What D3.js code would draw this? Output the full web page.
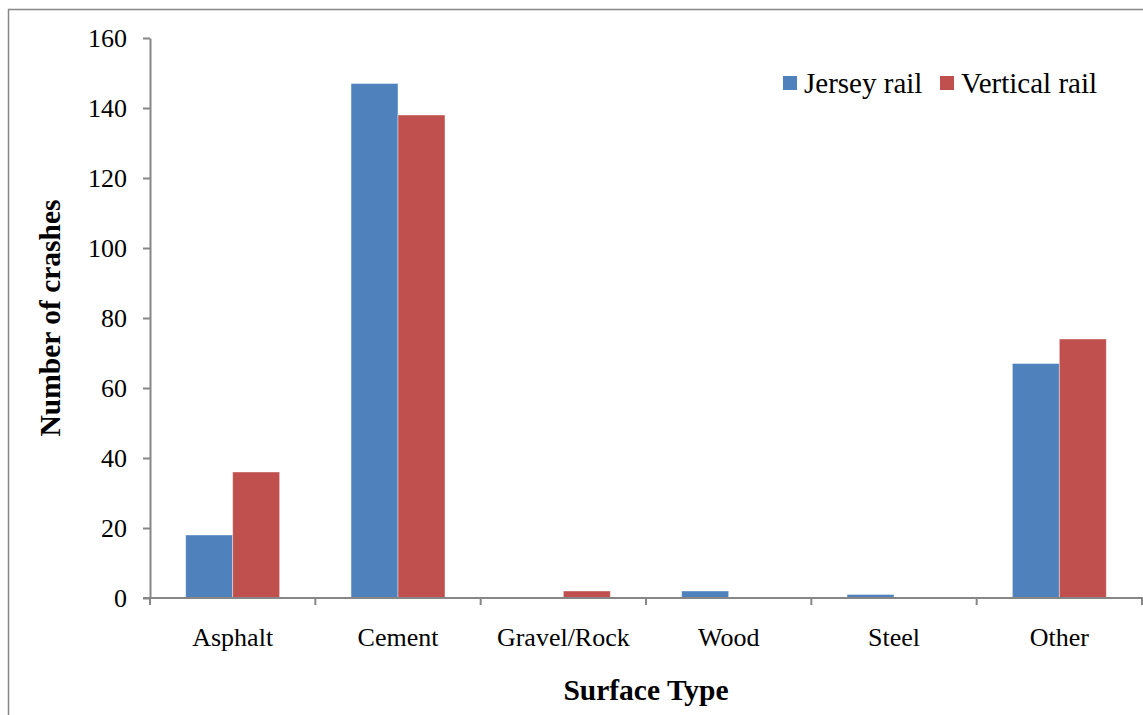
<!DOCTYPE html>
<html>
<head>
<meta charset="utf-8">
<script src="https://cdn.jsdelivr.net/npm/d3@7"></script>
<style>
  body { margin: 0; background: #fff; }
  text { font-family: "Liberation Serif", "Times New Roman", serif; fill: #000; }
</style>
</head>
<body>
<div id="chart"></div>
<script>
// Data
const categories = ["Asphalt", "Cement", "Gravel/Rock", "Wood", "Steel", "Other"];
const seriesNames = ["Jersey rail", "Vertical rail"];
const jerseyValues = [18, 147, 0, 2, 1, 67];
const verticalValues = [36, 138, 2, 0, 0, 74];
const yTicks = [0, 20, 40, 60, 80, 100, 120, 140, 160];

const colors = ["#4F81BD", "#C0504D"];

const width = 1143, height = 715;
const marginTop = 38, marginRight = 1, marginBottom = 117, marginLeft = 150;

const table = categories.map((c, i) => ({ cat: c, vals: [jerseyValues[i], verticalValues[i]] }));

const svg = d3.select("#chart").append("svg")
    .attr("width", width)
    .attr("height", height);

// outer frame (cropped at right and bottom)
svg.append("path")
    .attr("d", `M8.5,${height + 2}V9.5H${width + 2}`)
    .attr("fill", "none")
    .attr("stroke", "#868686")
    .attr("stroke-width", 1.5);

const x = d3.scaleBand()
    .domain(categories)
    .range([marginLeft, width - marginRight])
    .paddingInner(0)
    .paddingOuter(0);

const x1 = d3.scaleBand()
    .domain(seriesNames)
    .range([0, x.bandwidth()])
    .paddingOuter(0.76)
    .paddingInner(0);

const y = d3.scaleLinear()
    .domain([0, 160])
    .range([height - marginBottom, marginTop]);

// bars
svg.append("g")
    .selectAll("g")
    .data(table)
    .join("g")
    .attr("transform", d => `translate(${x(d.cat)},0)`)
    .selectAll("rect")
    .data(d => d.vals.map((v, i) => ({ key: seriesNames[i], value: v, i })))
    .join("rect")
    .attr("x", d => x1(d.key))
    .attr("y", d => y(d.value))
    .attr("width", x1.bandwidth())
    .attr("height", d => y(0) - y(d.value))
    .attr("fill", d => colors[d.i])
    .attr("stroke", d => d.value > 0 ? "rgba(255,255,255,0.5)" : "none")
    .attr("stroke-width", 0.8);

// y axis
svg.append("g")
    .attr("transform", `translate(${marginLeft},0)`)
    .call(d3.axisLeft(y).tickValues(yTicks).tickSize(7).tickPadding(16).tickSizeOuter(0))
    .call(g => g.selectAll("path, line").attr("stroke", "#868686").attr("stroke-width", 2))
    .call(g => g.selectAll("text").attr("font-size", 26).attr("fill", "#000"));

// x axis
const xAxis = svg.append("g")
    .attr("transform", `translate(0,${y(0)})`);
xAxis.append("line")
    .attr("x1", marginLeft - 7).attr("x2", width)
    .attr("stroke", "#868686").attr("stroke-width", 2);
xAxis.selectAll("line.tick")
    .data(categories.concat(["end"]))
    .join("line")
    .attr("class", "tick")
    .attr("x1", (d, i) => i < categories.length ? x(d) : x(categories[categories.length - 1]) + x.bandwidth())
    .attr("x2", (d, i) => i < categories.length ? x(d) : x(categories[categories.length - 1]) + x.bandwidth())
    .attr("y1", 0).attr("y2", 7)
    .attr("stroke", "#868686").attr("stroke-width", 2);
xAxis.selectAll("text")
    .data(categories)
    .join("text")
    .attr("x", d => x(d) + x.bandwidth() / 2)
    .attr("y", 48)
    .attr("text-anchor", "middle")
    .attr("font-size", 26)
    .text(d => d);

// axis titles
svg.append("text")
    .attr("x", 646)
    .attr("y", 700)
    .attr("text-anchor", "middle")
    .attr("font-size", 29.5)
    .attr("font-weight", "bold")
    .text("Surface Type");

svg.append("text")
    .attr("transform", `translate(60,${(marginTop + y(0)) / 2}) rotate(-90)`)
    .attr("text-anchor", "middle")
    .attr("font-size", 29.5)
    .attr("font-weight", "bold")
    .text("Number of crashes");

// legend
const legend = svg.append("g")
    .attr("transform", "translate(783,76)")
    .selectAll("g")
    .data(seriesNames)
    .join("g")
    .attr("transform", (d, i) => `translate(${i * 157},0)`);

legend.append("rect")
    .attr("width", 14)
    .attr("height", 14)
    .attr("fill", (d, i) => colors[i]);

legend.append("text")
    .attr("x", 21)
    .attr("y", 17)
    .attr("font-size", 29)
    .text(d => d);
</script>
</body>
</html>
